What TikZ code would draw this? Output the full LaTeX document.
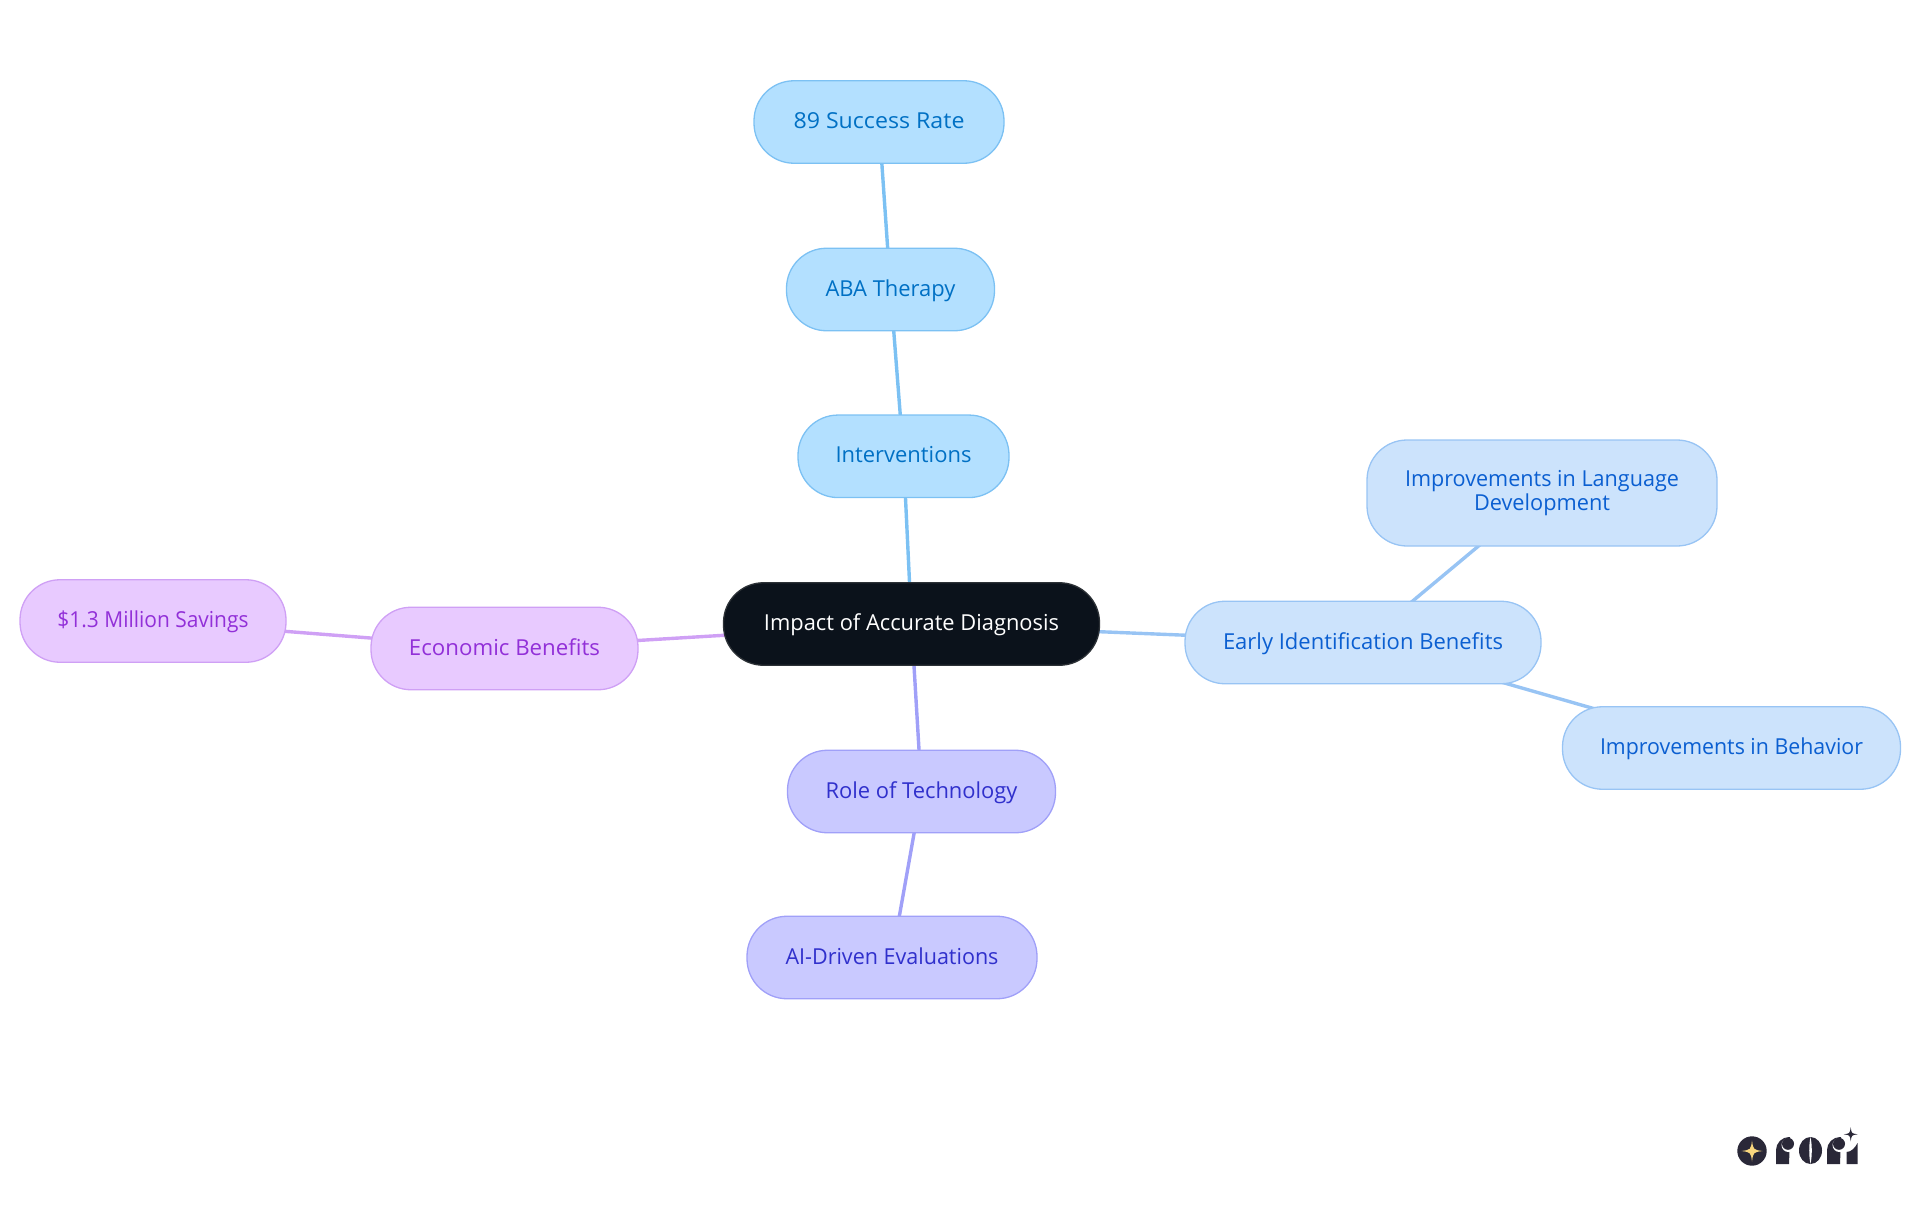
\documentclass[tikz,border=0pt]{standalone}
\usepackage{fontspec}
\setmainfont{Open Sans}
\usetikzlibrary{backgrounds}
\definecolor{skyF}{HTML}{B3E0FF}\definecolor{skyD}{HTML}{7CC1F3}\definecolor{skyT}{HTML}{0070C4}
\definecolor{blueF}{HTML}{CCE3FC}\definecolor{blueD}{HTML}{98C4F4}\definecolor{blueT}{HTML}{0B5FD1}
\definecolor{indF}{HTML}{C9C9FF}\definecolor{indD}{HTML}{A0A0F8}\definecolor{indT}{HTML}{3030CC}
\definecolor{purF}{HTML}{E8CAFF}\definecolor{purD}{HTML}{CFA0F5}\definecolor{purT}{HTML}{9230D8}
\definecolor{rootF}{HTML}{0B121B}\definecolor{rootD}{HTML}{2C3136}
\definecolor{logoD}{HTML}{2A2838}\definecolor{logoY}{HTML}{F9D77E}
\tikzset{
  pill/.style={rectangle,rounded corners=40pt,inner sep=0pt,line width=1.3pt,align=center,
    minimum height=82.5pt,font=\fontsize{22}{24.6}\selectfont},
  oneline/.style={text height=18pt,text depth=5pt},
  root/.style={pill,fill=rootF,draw=rootD,text=white},
  sky/.style={pill,fill=skyF,draw=skyD,text=skyT},
  bluebox/.style={pill,fill=blueF,draw=blueD,text=blueT},
  ind/.style={pill,fill=indF,draw=indD,text=indT},
  pur/.style={pill,fill=purF,draw=purD,text=purT},
  link/.style={line width=3.4pt}
}
\newcommand{\fitw}[2]{\resizebox{#1pt}{\height}{#2}}
\newcommand{\logostar}[4]{\fill[#4] (#1,#2-#3) .. controls (#1+0.12*#3,#2-0.12*#3) .. (#1+#3,#2) .. controls (#1+0.12*#3,#2+0.12*#3) .. (#1,#2+#3) .. controls (#1-0.12*#3,#2+0.12*#3) .. (#1-#3,#2) .. controls (#1-0.12*#3,#2-0.12*#3) .. cycle;}
\newcommand{\logor}[1]{%
  \fill[logoD] (#1,1164) -- (#1,1150) .. controls (#1,1143) and (#1+6,1137) .. (#1+13,1137) -- (#1+14,1137) -- (#1+13,1164) -- cycle;
  \fill[white] (#1+12.5,1145) circle[radius=7];
  \fill[logoD] (#1+12,1143.8) circle[radius=6];
}
\begin{document}
\begin{tikzpicture}[x=1pt,y=-1pt]
\useasboundingbox (0,0) rectangle (1920,1215);
\node[root,oneline,minimum width=376pt] (main) at (911.5,624) {\fitw{295}{Impact of Accurate Diagnosis}};
\node[sky,oneline,minimum width=211pt] (interv) at (903.5,456.3) {\fitw{136}{Interventions}};
\node[sky,oneline,minimum width=208pt] (aba) at (890.5,289.5) {\fitw{130}{ABA Therapy}};
\node[sky,oneline,minimum width=250pt] (rate) at (879,122) {\fitw{171}{89 Success Rate}};
\node[bluebox,oneline,minimum width=356pt] (early) at (1363,642.5) {\fitw{280}{Early Identification Benefits}};
\node[bluebox,minimum width=350pt,minimum height=106pt] (lang) at (1542,493) {\raisebox{-1pt}{\fitw{274}{Improvements in Language}}\\\raisebox{-1pt}{\fitw{136}{Development}}};
\node[bluebox,oneline,minimum width=338pt] (behav) at (1731.5,748) {\fitw{263}{Improvements in Behavior}};
\node[ind,oneline,minimum width=268pt] (tech) at (921.5,791.5) {\fitw{192}{Role of Technology}};
\node[ind,oneline,minimum width=290pt] (ai) at (892,957.5) {\fitw{213}{AI-Driven Evaluations}};
\node[pur,oneline,minimum width=267pt] (econ) at (504.5,648.5) {\fitw{191}{Economic Benefits}};
\node[pur,oneline,minimum width=266pt] (save) at (153,621) {\fitw{191}{\$1.3 Million Savings}};
\begin{scope}[on background layer]
  \draw[link,skyD] (main.center) -- (interv.center);
  \draw[link,skyD] (interv.center) -- (aba.center);
  \draw[link,skyD] (aba.center) -- (rate.center);
  \draw[link,blueD] (main.center) -- (early.center);
  \draw[link,blueD] (early.center) -- (lang.center);
  \draw[link,blueD] (early.center) -- (behav.center);
  \draw[link,indD] (main.center) -- (tech.center);
  \draw[link,indD] (tech.center) -- (ai.center);
  \draw[link,purD] (main.center) -- (econ.center);
  \draw[link,purD] (econ.center) -- (save.center);
\end{scope}
% logo
\fill[logoD] (1752,1151) circle[radius=14.7];
\logostar{1752}{1151}{10.5}{logoY}
\logor{1776}
\fill[logoD] (1810.5,1150.5) ellipse[x radius=11.5,y radius=13.5];
\fill[white] (1810.5,1137) .. controls (1808.8,1145) and (1808.8,1156) .. (1810.5,1164) .. controls (1812.2,1156) and (1812.2,1145) .. cycle;
\logor{1827}
\fill[logoD] (1846.5,1164) -- (1846.5,1152) .. controls (1851,1152) and (1855,1148) .. (1857.5,1143) -- (1857.5,1164) -- cycle;
\logostar{1850.7}{1134.3}{7}{logoD}
\end{tikzpicture}
\end{document}
